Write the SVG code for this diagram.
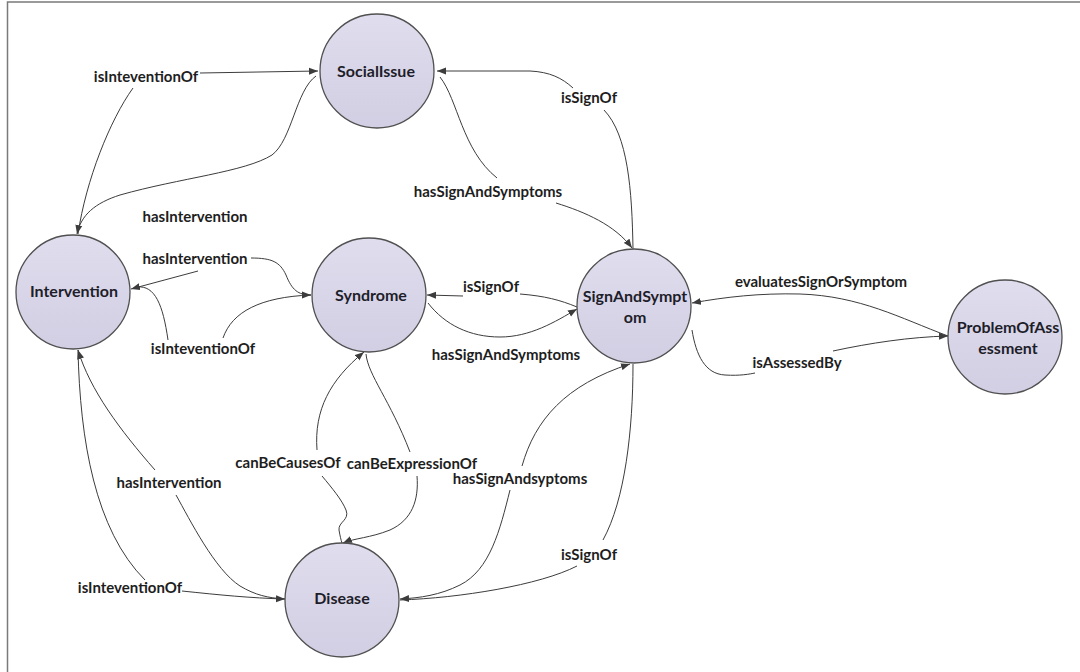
<svg xmlns="http://www.w3.org/2000/svg" width="1080" height="672" viewBox="0 0 1080 672">
<style>
.frame{fill:#ffffff;stroke:#7a7a7a;stroke-width:1.5}
.node circle{fill:url(#nodeFill);stroke:#505050;stroke-width:1.3}
.nl{font-family:Lato,"Liberation Sans",sans-serif;font-weight:bold;font-size:16px;fill:#1e1e2a;text-anchor:middle}
.el{font-family:Lato,"Liberation Sans",sans-serif;font-weight:bold;font-size:15px;fill:#1e1e1e;text-anchor:middle}
#connectors path{fill:none;stroke:#3c3c3c;stroke-width:1}
.arr{marker-end:url(#ah)}
</style>
<defs>
<linearGradient id="nodeFill" x1="0" y1="0" x2="0" y2="1">
<stop offset="0" stop-color="#e0ddee"/>
<stop offset="1" stop-color="#d2cee3"/>
</linearGradient>
<marker id="ah" markerWidth="10" markerHeight="8" refX="9" refY="4" orient="auto" markerUnits="userSpaceOnUse">
<path d="M0,0.5 L9,4 L0,7.5 Z" fill="#3c3c3c"/>
</marker>
</defs>
<rect class="frame" x="7.5" y="2" width="1100" height="700"/>
<g id="connectors">
<path d="M133,88 C110,120 86,180 78,234"/>
<path class="arr" d="M200,73 L318,71"/>
<path class="arr" d="M316,76 C296,90 292,140 272,155 C245,172 180,178 120,195 C95,203 81,215 77,234"/>
<path d="M633,249 C632,190 628,135 604,110"/>
<path class="arr" d="M573,88 C562,78 550,72 530,71 L437,71"/>
<path d="M440,77 C458,100 462,150 497,178"/>
<path class="arr" d="M556,203 C585,212 615,225 632,248"/>
<path class="arr" d="M198,271 L131,289"/>
<path class="arr" d="M251,258 C272,258 280,262 286,275 C292,290 298,295 311,295"/>
<path d="M137,287 C155,285 163,305 168,340"/>
<path d="M223,338 C232,312 260,297 311,295"/>
<path class="arr" d="M463,296 L427,295"/>
<path d="M520,294 C545,296 560,300 577,307"/>
<path class="arr" d="M428,303 C445,325 470,337 500,337 C530,337 555,322 577,309"/>
<path class="arr" d="M948,336 C900,318 860,296 800,294 C760,293 725,297 692,303"/>
<path d="M692,330 C696,355 705,374 725,375 C740,376 750,374 755,373"/>
<path class="arr" d="M833,351 C870,343 910,337 948,336"/>
<path class="arr" d="M317,450 C314,410 330,380 364,352"/>
<path d="M322,476 C332,488 342,500 346,510 C350,520 338,522 339,530 C340,536 341,540 342,543"/>
<path d="M366,354 C368,375 390,400 410,452"/>
<path class="arr" d="M417,476 C419,500 412,520 390,530 C370,538 355,538 343,543"/>
<path d="M78,350 C80,440 95,530 145,580"/>
<path class="arr" d="M182,591 C220,595 250,598 285,599"/>
<path class="arr" d="M155,470 C120,430 90,390 78,350"/>
<path d="M176,495 C190,520 215,570 240,586 C255,595 268,598 285,599"/>
<path class="arr" d="M522,466 C535,420 565,385 630,364"/>
<path class="arr" d="M510,490 C500,530 490,570 460,585 C440,595 420,598 400,599"/>
<path d="M633,364 C633,430 625,500 603,540"/>
<path d="M577,566 C540,585 460,598 400,600"/>
</g>
<g id="edge-labels">
<text class="el" x="146" y="82">isInteventionOf</text>
<text class="el" x="195" y="222">hasIntervention</text>
<text class="el" x="488" y="197">hasSignAndSymptoms</text>
<text class="el" x="589" y="103">isSignOf</text>
<text class="el" x="195" y="264">hasIntervention</text>
<text class="el" x="203" y="354">isInteventionOf</text>
<text class="el" x="491" y="292">isSignOf</text>
<text class="el" x="506" y="360">hasSignAndSymptoms</text>
<text class="el" x="821" y="287">evaluatesSignOrSymptom</text>
<text class="el" x="797" y="368">isAssessedBy</text>
<text class="el" x="288" y="468">canBeCausesOf</text>
<text class="el" x="412" y="469">canBeExpressionOf</text>
<text class="el" x="169" y="488">hasIntervention</text>
<text class="el" x="520" y="484">hasSignAndsyptoms</text>
<text class="el" x="589" y="560">isSignOf</text>
<text class="el" x="130" y="593">isInteventionOf</text>
</g>
<g id="SocialIssue" class="node"><circle cx="377" cy="71" r="57"/><text class="nl" x="376" y="77">SocialIssue</text></g>
<g id="Intervention" class="node"><circle cx="73" cy="292" r="57"/><text class="nl" x="74" y="297">Intervention</text></g>
<g id="Syndrome" class="node"><circle cx="369" cy="295" r="57"/><text class="nl" x="371" y="301">Syndrome</text></g>
<g id="SignAndSymptom" class="node"><circle cx="634" cy="306" r="57"/><text class="nl" x="635" y="302">SignAndSympt</text><text class="nl" x="635" y="323">om</text></g>
<g id="ProblemOfAssessment" class="node"><circle cx="1005" cy="337" r="57"/><text class="nl" x="1008" y="333">ProblemOfAss</text><text class="nl" x="1008" y="354">essment</text></g>
<g id="Disease" class="node"><circle cx="342" cy="600" r="57"/><text class="nl" x="342" y="604">Disease</text></g>
</svg>
